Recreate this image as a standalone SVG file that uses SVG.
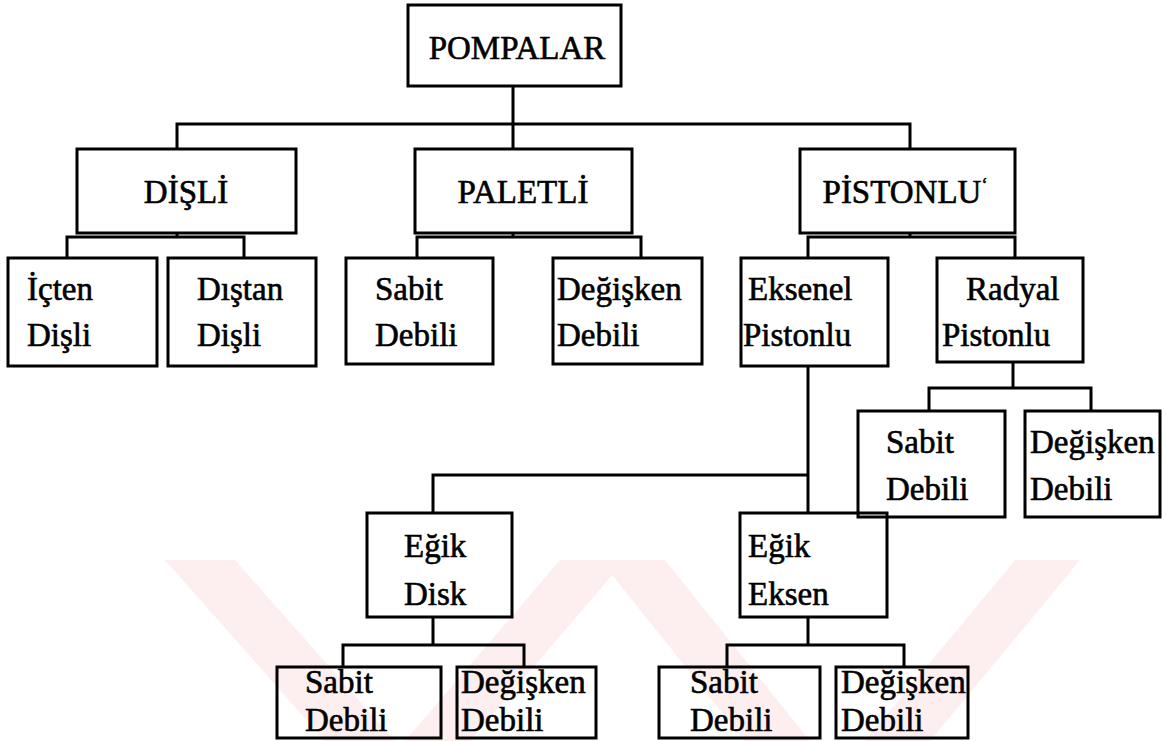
<svg xmlns="http://www.w3.org/2000/svg" width="1167" height="741" viewBox="0 0 1167 741">
<style>
.box{fill:none;stroke:#000;stroke-width:3}
.ln{fill:none;stroke:#000;stroke-width:3}
text{font-family:'Liberation Serif','Times New Roman','DejaVu Serif',serif;font-size:33px;fill:#000;stroke:#000;stroke-width:0.6}
.tc{text-anchor:middle}
.wm{fill:#fdeef0}
</style>
<g id="watermark">
<polygon class="wm" points="165,560 235,560 395,741 325,741"/>
<polygon class="wm" points="560,560 625,560 470,741 405,741"/>
<polygon class="wm" points="600,560 665,560 810,741 745,741"/>
<polygon class="wm" points="1015,560 1080,560 930,741 865,741"/>
</g>
<g id="connectors">
<polyline class="ln" points="513,86 513,149"/>
<polyline class="ln" points="177,149 177,124 910,124 910,149"/>
<polyline class="ln" points="177,233 177,237"/>
<polyline class="ln" points="67,258 67,237 244,237 244,258"/>
<polyline class="ln" points="513,233 513,237"/>
<polyline class="ln" points="417,258 417,237 641,237 641,258"/>
<polyline class="ln" points="910,233 910,237"/>
<polyline class="ln" points="808,258 808,237 1015,237 1015,258"/>
<polyline class="ln" points="1013,362 1013,388"/>
<polyline class="ln" points="929,411 929,388 1091,388 1091,411"/>
<polyline class="ln" points="808,366 808,513"/>
<polyline class="ln" points="433,513 433,475 808,475"/>
<polyline class="ln" points="433,617 433,645"/>
<polyline class="ln" points="343,667 343,645 524,645 524,667"/>
<polyline class="ln" points="808,617 808,645"/>
<polyline class="ln" points="727,667 727,645 904,645 904,667"/>
</g>
<g id="n-pompalar"><rect class="box" x="408" y="5" width="213" height="81"/><text class="tc" x="517" y="59">POMPALAR</text></g>
<g id="n-disli"><rect class="box" x="77" y="149" width="219" height="84"/><text class="tc" x="186" y="203" font-size="36">DİŞLİ</text></g>
<g id="n-paletli"><rect class="box" x="415" y="149" width="217" height="84"/><text class="tc" x="523" y="203">PALETLİ</text></g>
<g id="n-pistonlu"><rect class="box" x="800" y="149" width="215" height="84"/><text class="tc" x="905" y="203">PİSTONLU<tspan font-size="18" dy="-12">ʻ</tspan></text></g>
<g id="n-icten"><rect class="box" x="8" y="258" width="149" height="108"/><text x="27" y="300">İçten</text><text x="27" y="346">Dişli</text></g>
<g id="n-distan"><rect class="box" x="168" y="258" width="148" height="108"/><text x="197" y="300">Dıştan</text><text x="197" y="346">Dişli</text></g>
<g id="n-pal-sabit"><rect class="box" x="346" y="258" width="147" height="106"/><text x="375" y="300">Sabit</text><text x="375" y="346">Debili</text></g>
<g id="n-pal-degisken"><rect class="box" x="553" y="258" width="149" height="106"/><text x="557" y="300">Değişken</text><text x="557" y="346">Debili</text></g>
<g id="n-eksenel"><rect class="box" x="741" y="258" width="147" height="108"/><text x="748" y="300">Eksenel</text><text x="743" y="346">Pistonlu</text></g>
<g id="n-radyal"><rect class="box" x="937" y="258" width="146" height="104"/><text x="966" y="300">Radyal</text><text x="942" y="346">Pistonlu</text></g>
<g id="n-rad-sabit"><rect class="box" x="858" y="411" width="147" height="106"/><text x="886" y="453">Sabit</text><text x="886" y="500">Debili</text></g>
<g id="n-rad-degisken"><rect class="box" x="1025" y="411" width="135" height="106"/><text x="1030" y="453">Değişken</text><text x="1030" y="500">Debili</text></g>
<g id="n-egik-disk"><rect class="box" x="367" y="513" width="145" height="104"/><text x="404" y="557">Eğik</text><text x="404" y="605">Disk</text></g>
<g id="n-egik-eksen"><rect class="box" x="740" y="513" width="147" height="104"/><text x="748" y="557">Eğik</text><text x="748" y="605">Eksen</text></g>
<g id="n-ed-sabit"><rect class="box" x="277" y="667" width="164" height="71"/><text x="305" y="693">Sabit</text><text x="305" y="731">Debili</text></g>
<g id="n-ed-degisken"><rect class="box" x="457" y="667" width="139" height="71"/><text x="461" y="693">Değişken</text><text x="461" y="731">Debili</text></g>
<g id="n-ee-sabit"><rect class="box" x="659" y="667" width="161" height="71"/><text x="690" y="693">Sabit</text><text x="690" y="731">Debili</text></g>
<g id="n-ee-degisken"><rect class="box" x="836" y="667" width="132" height="71"/><text x="841" y="693">Değişken</text><text x="841" y="731">Debili</text></g>
</svg>
